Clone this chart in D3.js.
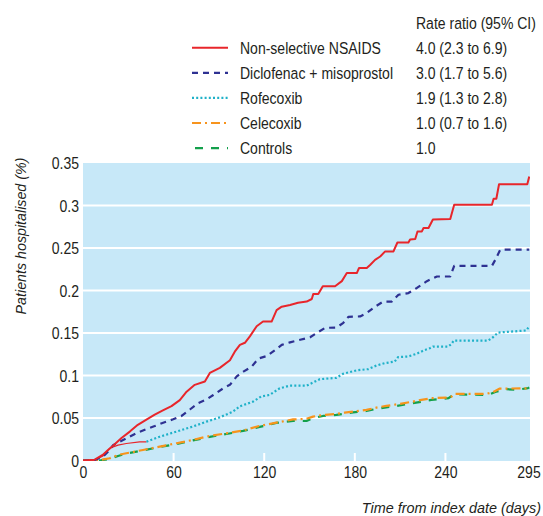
<!DOCTYPE html>
<html>
<head>
<meta charset="utf-8">
<script src="https://cdn.jsdelivr.net/npm/d3@7"></script>
<style>
  html, body { margin: 0; padding: 0; background: #fff; }
  svg { display: block; }
  text { font-family: "Liberation Sans", Arial, sans-serif; fill: #231f20; }
</style>
</head>
<body>
<svg id="chart"></svg>
<script>
// [day, % hospitalised]
const nonSelective = [
  [0, 0], [7.8, 0.001], [9.7, 0.003], [13, 0.0065], [16.4, 0.012], [19.7, 0.017],
  [25.5, 0.0265], [31, 0.034], [36.3, 0.042], [42, 0.048], [47.5, 0.054], [52.9, 0.059],
  [58.6, 0.064], [64.1, 0.071], [68.6, 0.081], [74, 0.089], [80.7, 0.093], [84, 0.103],
  [90.6, 0.109], [97.3, 0.118], [100.5, 0.128], [103.9, 0.136], [107.2, 0.1385], [110.5, 0.146],
  [115, 0.158], [119.2, 0.1635], [124.9, 0.1635], [128.2, 0.177], [131.6, 0.181], [137.1, 0.183],
  [142.4, 0.1855], [148.1, 0.187], [151.5, 0.19], [152.5, 0.196], [155.8, 0.196], [158.8, 0.205],
  [166.9, 0.205], [171.4, 0.211], [174.7, 0.2205], [181.3, 0.2205], [182.8, 0.2265], [187.9, 0.2265],
  [190.1, 0.23], [193.4, 0.236], [196.8, 0.24], [200.1, 0.246], [205.6, 0.246], [208.2, 0.2565],
  [215.5, 0.2565], [216.6, 0.26], [220, 0.2605], [221.5, 0.2695], [224.4, 0.2695], [225.5, 0.2735],
  [228.8, 0.2735], [231.7, 0.2835], [243.2, 0.284], [245.8, 0.301], [270.8, 0.301], [271.9, 0.308],
  [273.7, 0.308], [275.5, 0.325], [294.2, 0.325], [295.5, 0.334]
];

const diclofenac = [
  [0, 0], [7.7, 0.0005], [13.2, 0.0045], [17.7, 0.0124], [19.9, 0.018], [24.3, 0.022],
  [30.9, 0.028], [36.4, 0.033], [42, 0.037], [47.5, 0.0405], [53.1, 0.0445], [59.7, 0.0485],
  [65.3, 0.0525], [70.8, 0.06], [76.3, 0.0675], [81.9, 0.072], [86.3, 0.077], [92.9, 0.085],
  [97.3, 0.089], [101.8, 0.099], [106.2, 0.1045], [111.7, 0.1105], [116.2, 0.12], [121.7, 0.123],
  [127.2, 0.13], [131.6, 0.136], [137.1, 0.139], [143.8, 0.142], [150.4, 0.145], [154.8, 0.15],
  [160.3, 0.156], [168, 0.1565], [172.4, 0.162], [175.7, 0.169], [183.5, 0.1695], [187.9, 0.1735],
  [193.4, 0.181], [198.9, 0.187], [204.5, 0.187], [208.9, 0.195], [215.5, 0.197], [221.1, 0.203],
  [227.7, 0.211], [234.4, 0.2165], [243.2, 0.2165], [245.8, 0.229], [270.8, 0.229], [273, 0.236],
  [276.3, 0.248], [295.5, 0.248]
];

// first stretch of the rofecoxib curve is printed as a thin red line
const rofecoxibStart = [
  [0, 0], [7.7, 0.0005], [13.2, 0.0053], [17.7, 0.0144], [23.2, 0.018], [28.7, 0.02],
  [37.5, 0.022], [42, 0.022]
];

const rofecoxib = [
  [42, 0.022], [50.8, 0.028], [61.9, 0.034], [72.8, 0.04], [81.7, 0.0457], [90.5, 0.0507],
  [99.3, 0.0575], [103.8, 0.0636], [112.6, 0.0693], [118.1, 0.0754], [123.6, 0.0772], [130.3, 0.085],
  [136.9, 0.088], [148, 0.088], [152.3, 0.0917], [156.8, 0.0957], [167.8, 0.0972], [172.2, 0.102],
  [176.7, 0.104], [181, 0.106], [188.8, 0.1075], [194.3, 0.1117], [199.8, 0.1145], [206.4, 0.1164],
  [208.6, 0.1216], [215.2, 0.1223], [220.8, 0.1255], [226.3, 0.13], [229.6, 0.132], [231.8, 0.134],
  [241.7, 0.134], [244, 0.137], [245.5, 0.141], [268.2, 0.141], [271.5, 0.145], [274.8, 0.1505],
  [293.6, 0.153], [295.5, 0.158]
];

const celecoxib = [
  [0, 0], [11, 0.0006], [17.7, 0.0026], [23.2, 0.0065], [28.7, 0.0085], [39.7, 0.0124],
  [50.8, 0.0163], [61.9, 0.0203], [72.8, 0.0242], [83.9, 0.0289], [95, 0.032], [106, 0.0354],
  [117, 0.0407], [128, 0.0445], [139.1, 0.0483], [148, 0.049], [152.3, 0.0516], [158.9, 0.0536],
  [167.8, 0.0548], [173.3, 0.0563], [178.8, 0.0575], [187.7, 0.0595], [194.3, 0.0622], [200.9, 0.0642],
  [209.8, 0.0666], [218.5, 0.0693], [224.1, 0.0713], [230.7, 0.0733], [240.7, 0.074], [244, 0.0752],
  [246.2, 0.0784], [267.1, 0.0784], [271.5, 0.0804], [276, 0.0846], [293.6, 0.0848], [295.5, 0.086]
];

const controls = [
  [0, 0], [11, 0], [17.7, 0.0018], [23.2, 0.0053], [28.7, 0.0082], [39.7, 0.0118],
  [50.8, 0.0159], [61.9, 0.0194], [72.8, 0.0236], [83.9, 0.0277], [95, 0.0312], [106, 0.0348],
  [117, 0.0395], [128, 0.0442], [139.1, 0.0465], [148, 0.0465], [152.3, 0.05], [158.9, 0.0524],
  [167.8, 0.0536], [178.8, 0.0566], [187.7, 0.0583], [194.3, 0.0607], [207.5, 0.0642], [218.5, 0.0674],
  [230.7, 0.0713], [242.1, 0.0733], [245.5, 0.078], [256.1, 0.0775], [268.2, 0.0772], [273.8, 0.0811],
  [280.4, 0.0839], [287, 0.0831], [294.7, 0.0851], [295.5, 0.086]
];

const seriesNames = ["Non-selective NSAIDS", "Diclofenac + misoprostol", "Rofecoxib", "Celecoxib", "Controls"];
const rateRatios = ["4.0 (2.3 to 6.9)", "3.0 (1.7 to 5.6)", "1.9 (1.3 to 2.8)", "1.0 (0.7 to 1.6)", "1.0"];
const yTicks = [0, 0.05, 0.1, 0.15, 0.2, 0.25, 0.3, 0.35];
const xTicks = [0, 60, 120, 180, 240, 295];

const styles = [
  { color: "#e8262b", dash: null, width: 2 },
  { color: "#2e3192", dash: "6,5", width: 2.2 },
  { color: "#1fb1c8", dash: "2,2.2", width: 2.2 },
  { color: "#f7941d", dash: "9,4,2,4", width: 2.2 },
  { color: "#13a04b", dash: "8,8", width: 2.2 }
];

const width = 543, height = 516;
const plotLeft = 83, plotRight = 530, plotTop = 163, plotBottom = 461;
// the original uses a condensed face; squeeze the regular one horizontally
const squeeze = 0.85;
const fontSize = "16.5px";

const svg = d3.select("#chart")
  .attr("width", width)
  .attr("height", height);

const x = d3.scaleLinear().domain([0, 296]).range([plotLeft, plotRight]);
const y = d3.scaleLinear().domain([0, 0.35]).range([460.5, plotTop]);

function addText(parent, tx, ty, str, anchor, sx) {
  return parent.append("text")
    .attr("transform", `translate(${tx},${ty}) scale(${sx || squeeze},1)`)
    .attr("dy", "0.36em")
    .attr("text-anchor", anchor || "start")
    .style("font-size", fontSize)
    .text(str);
}

// plot background
svg.append("rect")
  .attr("x", plotLeft)
  .attr("y", plotTop)
  .attr("width", plotRight - plotLeft)
  .attr("height", plotBottom - plotTop)
  .attr("fill", "#c7e8f8");

svg.append("clipPath").attr("id", "clip")
  .append("rect")
  .attr("x", plotLeft)
  .attr("y", plotTop - 2)
  .attr("width", plotRight - plotLeft)
  .attr("height", plotBottom - plotTop + 2);

// white gridlines
svg.append("g")
  .selectAll("line")
  .data(yTicks.filter(d => d > 0 && d < 0.35))
  .enter().append("line")
  .attr("x1", plotLeft)
  .attr("x2", plotRight)
  .attr("y1", d => y(d))
  .attr("y2", d => y(d))
  .attr("stroke", "#fff")
  .attr("stroke-width", 2);

// small white ticks sitting on the bottom edge
svg.append("g")
  .selectAll("line")
  .data(xTicks.filter(d => d > 0 && d < 295))
  .enter().append("line")
  .attr("x1", d => x(d))
  .attr("x2", d => x(d))
  .attr("y1", plotBottom - 8)
  .attr("y2", plotBottom)
  .attr("stroke", "#fff")
  .attr("stroke-width", 2);

// axes (labels only)
const yAxis = svg.append("g")
  .attr("transform", `translate(${plotLeft - 4},0)`)
  .call(d3.axisLeft(y).tickValues(yTicks).tickSize(0).tickPadding(0)
    .tickFormat(d => d === 0 ? "0" : String(+d.toFixed(2))));
yAxis.select(".domain").remove();
yAxis.selectAll("text")
  .attr("dy", "0.36em")
  .attr("transform", `scale(${squeeze},1)`)
  .style("font-size", fontSize)
  .style("font-family", null)
  .style("fill", "#231f20");

const xAxis = svg.append("g")
  .attr("transform", `translate(0,${plotBottom + 3})`)
  .call(d3.axisBottom(x).tickValues(xTicks).tickSize(0).tickPadding(0).tickFormat(d3.format("d")));
xAxis.select(".domain").remove();
xAxis.selectAll("text")
  .attr("dy", "0.85em")
  .attr("transform", `scale(${squeeze},1)`)
  .style("font-size", fontSize)
  .style("fill", "#231f20");
svg.selectAll(".tick text").attr("font-family", null);
svg.selectAll("g").attr("font-family", null).attr("font-size", null);

svg.append("text")
  .attr("transform", "translate(26,236) rotate(-90) scale(0.92,1)")
  .attr("text-anchor", "middle")
  .style("font-size", "15.5px")
  .style("font-style", "italic")
  .text("Patients hospitalised (%)");

svg.append("text")
  .attr("transform", "translate(541,513) scale(0.93,1)")
  .attr("text-anchor", "end")
  .style("font-size", "15.5px")
  .style("font-style", "italic")
  .text("Time from index date (days)");

// curves
const line = d3.line()
  .x(d => x(d[0]))
  .y(d => y(d[1]));

const plot = svg.append("g").attr("clip-path", "url(#clip)");

const curves = [nonSelective, diclofenac, rofecoxib, celecoxib, controls];
const drawOrder = [4, 3, 2, 1, 0];

plot.append("path")
  .datum(rofecoxibStart)
  .attr("d", line)
  .attr("fill", "none")
  .attr("stroke", "#e8262b")
  .attr("stroke-width", 1.2);

drawOrder.forEach(i => {
  plot.append("path")
    .datum(curves[i])
    .attr("d", line)
    .attr("fill", "none")
    .attr("stroke", styles[i].color)
    .attr("stroke-width", styles[i].width)
    .attr("stroke-dasharray", styles[i].dash)
    .attr("stroke-linejoin", "round");
});

// legend
const legend = svg.append("g");

addText(legend, 416, 23, "Rate ratio (95% CI)");

seriesNames.forEach((name, i) => {
  const rowY = 47.7 + i * 25.1;
  const row = legend.append("g");

  row.append("line")
    .attr("x1", i === 4 ? 195 : 192)
    .attr("x2", 228)
    .attr("y1", rowY)
    .attr("y2", rowY)
    .attr("stroke", styles[i].color)
    .attr("stroke-width", styles[i].width)
    .attr("stroke-dasharray", styles[i].dash);

  addText(row, 240, rowY, name);
  addText(row, 416, rowY, rateRatios[i]);
});
</script>
</body>
</html>
